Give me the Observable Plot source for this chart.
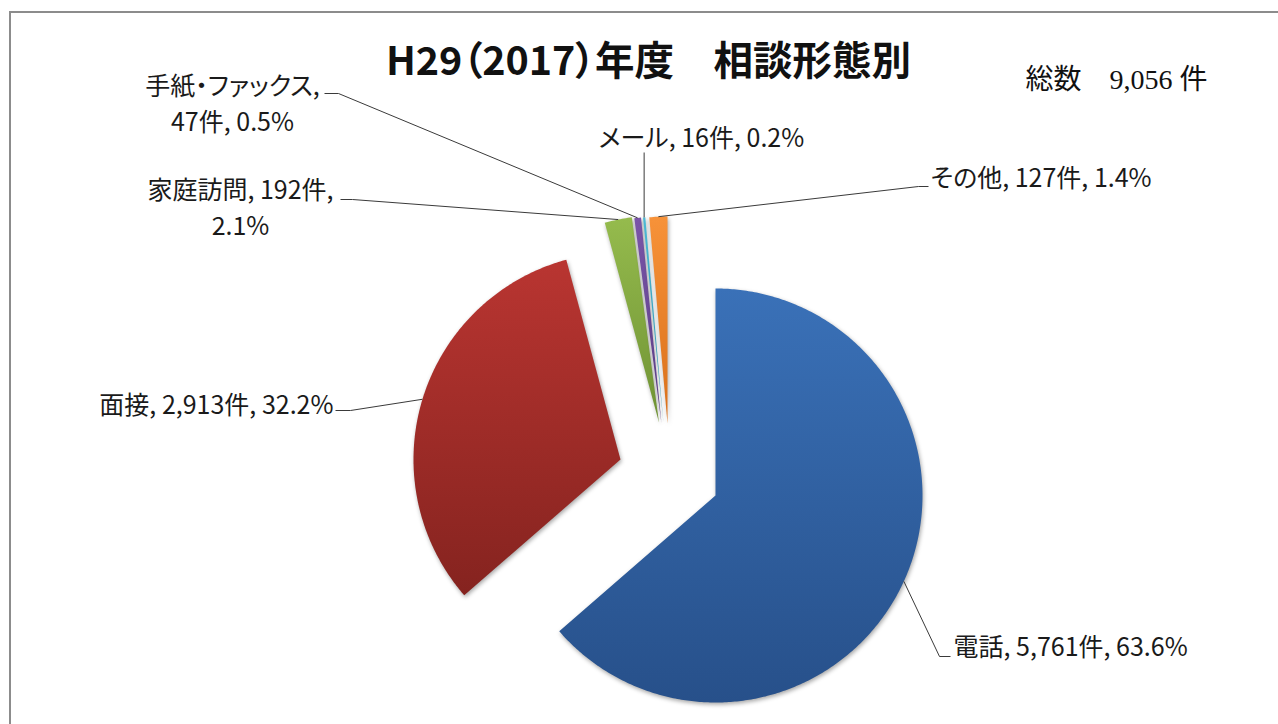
<!DOCTYPE html>
<html><head><meta charset="utf-8">
<script src="https://cdn.jsdelivr.net/npm/d3@7"></script>
<script src="https://cdn.jsdelivr.net/npm/@observablehq/plot@0.6"></script>
<style>
html,body{margin:0;padding:0;background:#fff;}
#wrap{position:relative;width:1278px;height:724px;overflow:hidden;background:#fff;}
#frame{position:absolute;left:9px;top:11px;width:1320px;height:800px;border:2px solid #8c8c8c;box-sizing:border-box;z-index:2;}
#chart{position:absolute;left:0;top:0;z-index:1;}
#chart svg text{font-feature-settings:"palt";}
</style></head><body>
<div id="wrap"><div id="chart"></div><div id="frame"></div></div>
<script>
// ---- data ----
const categories = ["電話", "面接", "家庭訪問", "手紙・ファックス", "メール", "その他"];
const counts = [5761, 2913, 192, 47, 16, 127];
const percents = [63.6, 32.2, 2.1, 0.5, 0.2, 1.4];
const titleText = "H29（2017）年度　相談形態別";
const totalLabel = "総数　9,056 件";
const gradTop = ["#3a71b8", "#b93531", "#95bb4d", "#7a55a8", "#4bb8d4", "#f79239"];
const gradBottom = ["#27508a", "#85231f", "#6f9234", "#5a3d84", "#2f92aa", "#d9701a"];

// ---- layout ----
const W = 1278, H = 724;
const center = [663, 440];
const radius = 207;
const explode = [[52, 55], [-43, 19], [-4.5, -18], [-2, -17], [0, -17], [4, -17]];
const labelLayout = [
  {anchor: "start",  x: 953, y: 647, gap: 0,  brk: 0, stub: [[950, 656], [939, 656]]},
  {anchor: "end",    x: 333, y: 405, gap: 0,  brk: 0, stub: [[335, 410], [350, 410]]},
  {anchor: "middle", x: 240, y: 190, gap: 36, brk: 2, stub: [[340, 199], [352, 199]]},
  {anchor: "middle", x: 232, y: 86,  gap: 36, brk: 1, stub: [[324, 93], [338, 93]]},
  {anchor: "middle", x: 701, y: 138, gap: 0,  brk: 0, stub: "vertical", stubY: 152},
  {anchor: "start",  x: 930, y: 178, gap: 0,  brk: 0, stub: [[928, 186], [918, 186]]}
];

// ---- geometry from data ----
const rows = categories.map((c, i) => ({i, name: c, count: counts[i], pct: percents[i]}));
const arcs = d3.pie().sort(null).value(d => d.count)(rows);
const slicePolys = arcs.map((a, i) => {
  const ax = center[0] + explode[i][0], ay = center[1] + explode[i][1];
  const n = Math.max(2, Math.ceil((a.endAngle - a.startAngle) / 0.01) + 1);
  const pts = [{x: ax, y: ay}];
  for (let k = 0; k < n; k++) {
    const t = a.startAngle + (a.endAngle - a.startAngle) * k / (n - 1);
    pts.push({x: ax + radius * Math.sin(t), y: ay - radius * Math.cos(t)});
  }
  const m = (a.startAngle + a.endAngle) / 2;
  return {pts, mid: {x: ax + radius * Math.sin(m), y: ay - radius * Math.cos(m)}};
});

const fmt = d3.format(",");
const textRows = [];
const leaderRows = [];
rows.forEach((r, i) => {
  const L = labelLayout[i];
  const parts = [r.name, `${fmt(r.count)}件`, `${r.pct.toFixed(1)}%`];
  const lines = L.brk > 0
    ? [parts.slice(0, L.brk).join(", ") + ",", parts.slice(L.brk).join(", ")]
    : [parts.join(", ")];
  lines.forEach((t, j) => textRows.push({text: t, x: L.x, y: L.y + j * L.gap, anchor: L.anchor}));
  const mid = slicePolys[i].mid;
  const path = L.stub === "vertical" ? [[mid.x, L.stubY]] : L.stub;
  path.concat([[mid.x, mid.y]]).forEach(p => leaderRows.push({id: i, x: p[0], y: p[1]}));
});

const labelFont = "'Noto Sans CJK JP', 'Noto Sans', sans-serif";
const marks = [];
slicePolys.forEach((s, i) => {
  marks.push(Plot.line(s.pts, {x: "x", y: "y", fill: `url(#grad${i})`, stroke: "none", curve: "linear-closed"}));
});
marks.push(Plot.line(leaderRows, {x: "x", y: "y", z: "id", stroke: "#3a3a3a", strokeWidth: 1, strokeLinecap: "butt"}));
["start", "middle", "end"].forEach(an => {
  marks.push(Plot.text(textRows.filter(d => d.anchor === an), {x: "x", y: "y", text: "text", textAnchor: an, fontSize: 25, fill: "#1a1a1a", fontFamily: labelFont}));
});
marks.push(Plot.text([titleText], {x: () => 648, y: () => 62, text: d => d, fontSize: 39.5, fontWeight: "bold", fill: "#111", fontFamily: labelFont}));
marks.push(Plot.text([totalLabel], {x: () => 1025, y: () => 80, text: d => d, textAnchor: "start", fontSize: 28, fill: "#111", fontFamily: "'Liberation Serif', 'Noto Sans CJK JP', serif"}));

const svg = Plot.plot({
  width: W, height: H, margin: 0,
  x: {domain: [0, W], range: [0, W], axis: null},
  y: {domain: [0, H], range: [0, H], axis: null},
  style: {background: "transparent", fontFamily: labelFont, overflow: "visible"},
  marks
});

const defs = d3.select(svg).insert("defs", ":first-child");
gradTop.forEach((c, i) => {
  const g = defs.append("linearGradient").attr("id", `grad${i}`).attr("x1", 0).attr("y1", 0).attr("x2", 0).attr("y2", 1);
  g.append("stop").attr("offset", "0%").attr("stop-color", c);
  g.append("stop").attr("offset", "100%").attr("stop-color", gradBottom[i]);
});
svg.querySelectorAll('g[fill^="url"]').forEach(g => { g.style.filter = "drop-shadow(1px 2px 2px rgba(0,0,0,0.35))"; });
document.getElementById("chart").appendChild(svg);
</script>
</body></html>
